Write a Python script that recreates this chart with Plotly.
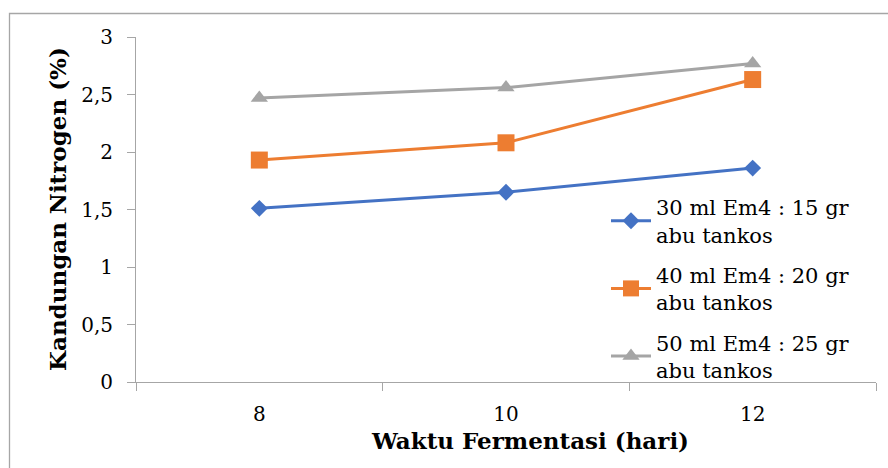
import plotly.graph_objects as go

# Fermentation time (days) and nitrogen content (%) for each treatment
hari = [8, 10, 12]
seri_nama = [
    "30 ml Em4 : 15 gr<br>abu tankos",
    "40 ml Em4 : 20 gr<br>abu tankos",
    "50 ml Em4 : 25 gr<br>abu tankos",
]
nitrogen_30 = [1.51, 1.65, 1.86]
nitrogen_40 = [1.93, 2.08, 2.63]
nitrogen_50 = [2.47, 2.56, 2.77]

y_ticks = [0, 0.5, 1, 1.5, 2, 2.5, 3]
y_tick_text = ["0", "0,5", "1", "1,5", "2", "2,5", "3"]

FONT = "DejaVu Serif"
AXIS_GREY = "#a6a6a6"

styles = [
    dict(color="#4472c4", symbol="diamond", size=13),
    dict(color="#ed7d31", symbol="square", size=17),
    dict(color="#a5a5a5", symbol="triangle-up", size=15),
]

fig = go.Figure()
for i, (name, vals, st) in enumerate(zip(seri_nama, [nitrogen_30, nitrogen_40, nitrogen_50], styles)):
    fig.add_trace(go.Scatter(
        x=hari, y=vals, name=name, mode="lines+markers", legendgroup=f"g{i}",
        line=dict(color=st["color"], width=3),
        marker=dict(color=st["color"], symbol=st["symbol"], size=st["size"],
                    line=dict(width=0)),
    ))

W, H = 888, 468
L, R, T, B = 136, 12, 37, 86
pw, ph = W - L - R, H - T - B

fig.update_layout(
    width=W, height=H,
    margin=dict(l=L, r=R, t=T, b=B),
    paper_bgcolor="white", plot_bgcolor="white",
    font=dict(family=FONT, size=20, color="black"),
    showlegend=True,
    legend=dict(
        x=(606 - L) / pw, y=(382 - 187) / ph, xanchor="left", yanchor="top",
        bgcolor="rgba(0,0,0,0)", font=dict(family=FONT, size=21, color="black"),
        tracegroupgap=10, itemwidth=40,
    ),
    xaxis=dict(
        range=[7, 13], tickvals=hari, ticktext=[str(h) for h in hari],
        ticks="", showgrid=False, zeroline=False,
        showline=True, linecolor=AXIS_GREY, linewidth=1,
        tickfont=dict(family=FONT, size=20, color="black"), ticklabelstandoff=14,
        minor=dict(tickvals=[7, 9, 11, 13], ticks="outside", ticklen=8,
                   tickcolor=AXIS_GREY, showgrid=False),
    ),
    yaxis=dict(
        range=[0, 3], tickvals=y_ticks, ticktext=y_tick_text,
        ticks="outside", ticklen=8, tickcolor=AXIS_GREY,
        showgrid=False, zeroline=False,
        showline=True, linecolor=AXIS_GREY, linewidth=1,
        tickfont=dict(family=FONT, size=20, color="black"), ticklabelstandoff=10,
    ),
)

# Axis titles
fig.add_annotation(
    text="<b>Waktu Fermentasi (hari)</b>", xref="paper", yref="paper",
    x=(530 - L) / pw, y=(382 - 440) / ph, xanchor="center", yanchor="middle",
    showarrow=False, font=dict(family=FONT, size=23, color="black"),
)
fig.add_annotation(
    text="<b>Kandungan Nitrogen (%)</b>", xref="paper", yref="paper",
    x=(57 - L) / pw, y=(382 - 209) / ph, xanchor="center", yanchor="middle",
    textangle=-90, showarrow=False, font=dict(family=FONT, size=23, color="black"),
)

# Chart-area frame
fig.add_shape(
    type="rect", xref="paper", yref="paper",
    x0=(9.5 - L) / pw, x1=(900 - L) / pw,
    y0=(382 - 480) / ph, y1=(382 - 13.5) / ph,
    line=dict(color="#a6a6a6", width=1.3), fillcolor="rgba(0,0,0,0)",
    layer="below",
)

fig.write_html("out.html")
